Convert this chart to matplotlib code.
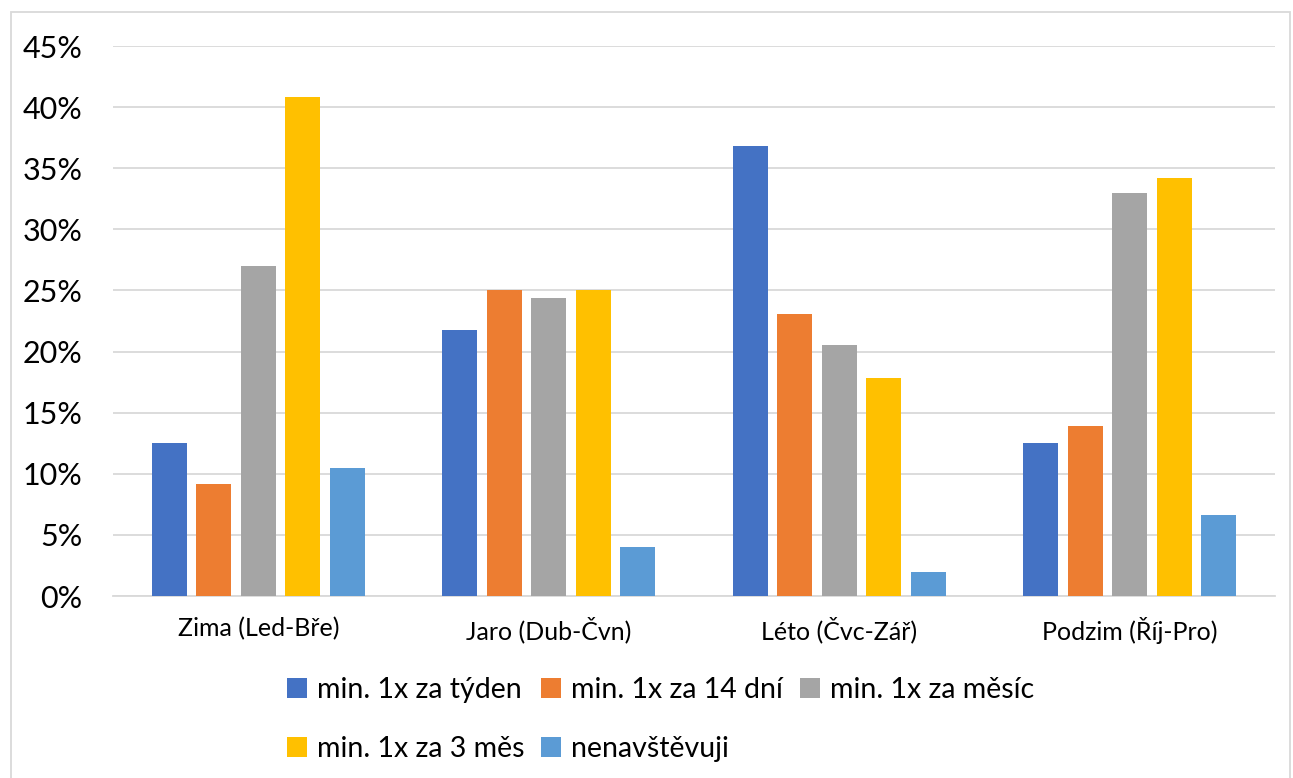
import numpy as np
import matplotlib.pyplot as plt
from matplotlib.ticker import PercentFormatter
from matplotlib.patches import Rectangle

plt.rcParams['font.family'] = ['Lato', 'DejaVu Sans']

# Data
seasons = ['Zima (Led-Bře)', 'Jaro (Dub-Čvn)', 'Léto (Čvc-Zář)', 'Podzim (Říj-Pro)']
series_names = ['min. 1x za týden', 'min. 1x za 14 dní', 'min. 1x za měsíc',
                'min. 1x za 3 měs', 'nenavštěvuji']
tyden = [12.5, 21.8, 36.8, 12.5]
dni14 = [9.2, 25.0, 23.1, 13.9]
mesic = [27.0, 24.4, 20.5, 33.0]
mes3 = [40.8, 25.0, 17.8, 34.2]
nenavstevuji = [10.5, 4.0, 2.0, 6.6]
colors = ['#4472C4', '#ED7D31', '#A5A5A5', '#FFC000', '#5B9BD5']

values = [tyden, dni14, mesic, mes3, nenavstevuji]

fig = plt.figure(figsize=(12.93, 7.78), dpi=100)
ax = fig.add_axes([113 / 1293, 1 - 596 / 778, 1162 / 1293, 550 / 778])

x = np.arange(len(seasons))
width = 0.12
step = 0.153
bars = []
for i, (name, vals, c) in enumerate(zip(series_names, values, colors)):
    bars.append(ax.bar(x + (i - 2) * step, vals, width, color=c, label=name, zorder=3))

ax.set_xlim(-0.5, len(seasons) - 0.5)
ax.set_ylim(0, 45)
ax.set_yticks(np.arange(0, 46, 5))
ax.yaxis.set_major_formatter(PercentFormatter(decimals=0))
ax.set_xticks(x)
ax.set_xticklabels(seasons, fontsize=18)
ax.tick_params(axis='y', labelsize=22, length=0, pad=22)
ax.tick_params(axis='x', length=0, pad=15)
ax.grid(axis='y', color='#D9D9D9', linewidth=1.3, zorder=0)
for s in ['top', 'right', 'left']:
    ax.spines[s].set_visible(False)
ax.spines['bottom'].set_color('#D9D9D9')
ax.spines['bottom'].set_linewidth(1.3)

# legend fills column by column, so reorder to get rows: 3 on top, 2 below
order = [0, 3, 1, 4, 2]
leg = fig.legend([bars[i] for i in order], [series_names[i] for i in order],
                 loc='upper left', bbox_to_anchor=(287 / 1293, 1 - 677 / 778),
                 ncol=3, frameon=False, fontsize=20.5, handlelength=0.7,
                 handleheight=0.7, handletextpad=0.35, columnspacing=0.6,
                 labelspacing=1.15, borderaxespad=0, borderpad=0)

# outer chart border
fig.patches.append(Rectangle((11 / 1293, -0.01), 1 - 14 / 1293, 1 - 12 / 778 + 0.01,
                             transform=fig.transFigure, fill=False,
                             edgecolor='#D9D9D9', linewidth=1.3))

fig.savefig('out.png', dpi=100)
